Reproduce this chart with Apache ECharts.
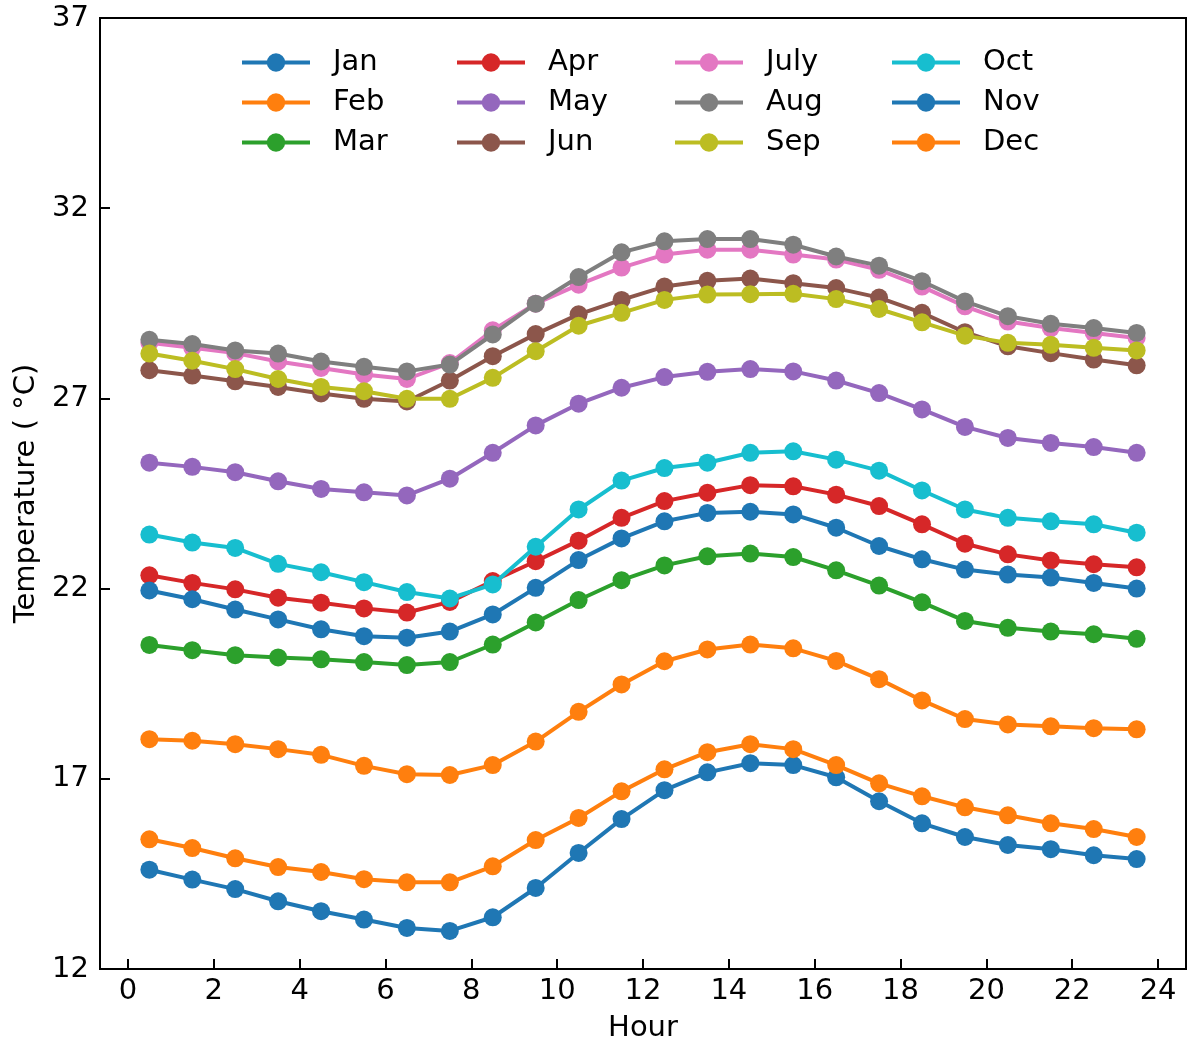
<!DOCTYPE html>
<html>
<head>
<meta charset="utf-8">
<script src="https://cdn.jsdelivr.net/npm/echarts@6/dist/echarts.min.js"></script>
<style>
  html, body { margin: 0; padding: 0; background: #fff; }
  #chart { width: 1189px; height: 1048px; }
</style>
</head>
<body>
<div id="chart"></div>
<script>
// hour of day (bin centres)
const hours = [0.5, 1.5, 2.5, 3.5, 4.5, 5.5, 6.5, 7.5, 8.5, 9.5, 10.5, 11.5,
  12.5, 13.5, 14.5, 15.5, 16.5, 17.5, 18.5, 19.5, 20.5, 21.5, 22.5, 23.5];

const jan = [14.61, 14.35, 14.10, 13.78, 13.52, 13.30, 13.08, 13.00, 13.36, 14.13, 15.05, 15.94,
  16.70, 17.17, 17.41, 17.36, 17.04, 16.41, 15.83, 15.47, 15.26, 15.15, 14.99, 14.89];
const feb = [15.41, 15.18, 14.91, 14.68, 14.55, 14.36, 14.28, 14.28, 14.70, 15.39, 15.97, 16.67,
  17.25, 17.70, 17.91, 17.78, 17.36, 16.88, 16.54, 16.25, 16.04, 15.83, 15.68, 15.47];
const mar = [20.52, 20.38, 20.25, 20.19, 20.14, 20.07, 19.99, 20.07, 20.53, 21.11, 21.70, 22.22,
  22.61, 22.85, 22.92, 22.83, 22.48, 22.08, 21.64, 21.15, 20.97, 20.87, 20.80, 20.68];
const apr = [22.35, 22.15, 21.98, 21.76, 21.63, 21.48, 21.37, 21.65, 22.20, 22.72, 23.26, 23.86,
  24.30, 24.52, 24.72, 24.69, 24.47, 24.17, 23.69, 23.18, 22.90, 22.74, 22.64, 22.56];
const may = [25.31, 25.20, 25.06, 24.82, 24.62, 24.53, 24.45, 24.89, 25.57, 26.29, 26.86, 27.28,
  27.56, 27.70, 27.77, 27.71, 27.47, 27.14, 26.71, 26.25, 25.96, 25.83, 25.72, 25.57];
const jun = [27.74, 27.60, 27.45, 27.30, 27.13, 26.99, 26.92, 27.47, 28.11, 28.69, 29.21, 29.59,
  29.94, 30.09, 30.15, 30.03, 29.90, 29.65, 29.25, 28.74, 28.37, 28.19, 28.02, 27.87];
const jul = [28.46, 28.33, 28.19, 27.97, 27.80, 27.63, 27.51, 27.93, 28.79, 29.49, 29.99, 30.44,
  30.78, 30.91, 30.91, 30.78, 30.65, 30.38, 29.94, 29.42, 29.02, 28.85, 28.72, 28.59];
const aug = [28.54, 28.43, 28.26, 28.18, 27.97, 27.83, 27.71, 27.89, 28.68, 29.49, 30.19, 30.84,
  31.13, 31.19, 31.19, 31.04, 30.73, 30.49, 30.08, 29.55, 29.16, 28.96, 28.85, 28.72];
const sep = [28.18, 27.99, 27.77, 27.51, 27.30, 27.19, 26.99, 26.99, 27.54, 28.24, 28.91, 29.25,
  29.59, 29.73, 29.74, 29.75, 29.61, 29.35, 29.00, 28.65, 28.46, 28.41, 28.33, 28.26];
const oct = [23.42, 23.21, 23.07, 22.65, 22.43, 22.17, 21.91, 21.74, 22.11, 23.10, 24.08, 24.84,
  25.17, 25.31, 25.57, 25.61, 25.39, 25.10, 24.58, 24.08, 23.86, 23.77, 23.69, 23.47];
const nov = [21.95, 21.72, 21.45, 21.19, 20.93, 20.75, 20.71, 20.87, 21.32, 22.02, 22.75, 23.32,
  23.77, 23.99, 24.02, 23.95, 23.60, 23.12, 22.77, 22.50, 22.37, 22.29, 22.15, 22.00];
const dec = [18.04, 18.00, 17.91, 17.78, 17.63, 17.34, 17.12, 17.10, 17.36, 17.98, 18.76, 19.48,
  20.09, 20.40, 20.53, 20.43, 20.10, 19.62, 19.06, 18.57, 18.43, 18.38, 18.33, 18.30];

const monthNames = ['Jan', 'Feb', 'Mar', 'Apr', 'May', 'Jun', 'July', 'Aug', 'Sep', 'Oct', 'Nov', 'Dec'];
const monthValues = [jan, feb, mar, apr, may, jun, jul, aug, sep, oct, nov, dec];
const xTicks = [0, 2, 4, 6, 8, 10, 12, 14, 16, 18, 20, 22, 24];

const colors = ['#1f77b4', '#ff7f0e', '#2ca02c', '#d62728', '#9467bd', '#8c564b',
  '#e377c2', '#7f7f7f', '#bcbd22', '#17becf', '#1f77b4', '#ff7f0e'];

const font = 'DejaVu Sans';

const series = monthNames.map((name, i) => ({
  name: name,
  type: 'line',
  data: hours.map((h, j) => [h, monthValues[i][j]]),
  symbol: 'circle',
  symbolSize: 18,
  color: colors[i],
  lineStyle: { width: 4, color: colors[i] },
  itemStyle: { color: colors[i] },
  z: 2 + i,
  emphasis: { disabled: true }
}));

// matplotlib legend is filled column by column, so one legend per column
const legendCols = [240, 455, 673, 890];
const legends = legendCols.map((left, c) => ({
  orient: 'vertical',
  left: left,
  top: 48,
  padding: 0,
  itemWidth: 68,
  itemHeight: 23,
  itemGap: 11,
  selectedMode: false,
  lineStyle: { width: 4 },
  data: monthNames.slice(c * 3, c * 3 + 3),
  textStyle: { fontFamily: font, fontSize: 29, color: '#000', padding: [0, 0, 0, 18] }
}));

const chart = echarts.init(document.getElementById('chart'), null, { renderer: 'canvas' });
chart.setOption({
  animation: false,
  backgroundColor: '#fff',
  grid: {
    left: 100, right: 3, top: 18, bottom: 78,
    show: true, borderColor: '#000', borderWidth: 2, backgroundColor: 'transparent'
  },
  legend: legends,
  xAxis: {
    type: 'value',
    min: -0.65,
    max: 24.65,
    name: 'Hour',
    nameLocation: 'middle',
    nameGap: 45,
    nameTextStyle: { fontFamily: font, fontSize: 29, color: '#000' },
    axisLine: { show: false, onZero: false },
    splitLine: { show: false },
    axisTick: { show: true, inside: true, length: 10, customValues: xTicks, lineStyle: { color: '#000', width: 2 } },
    axisLabel: { customValues: xTicks, fontFamily: font, fontSize: 29, color: '#000', margin: 8 }
  },
  yAxis: {
    type: 'value',
    min: 12,
    max: 37,
    interval: 5,
    name: 'Temperature ( °C)',
    nameLocation: 'middle',
    nameGap: 55,
    nameTextStyle: { fontFamily: font, fontSize: 29, color: '#000' },
    axisLine: { show: false, onZero: false },
    splitLine: { show: false },
    axisTick: { show: true, inside: true, length: 10, lineStyle: { color: '#000', width: 2 } },
    axisLabel: { fontFamily: font, fontSize: 29, color: '#000', margin: 11 }
  },
  series: series
});
</script>
</body>
</html>
